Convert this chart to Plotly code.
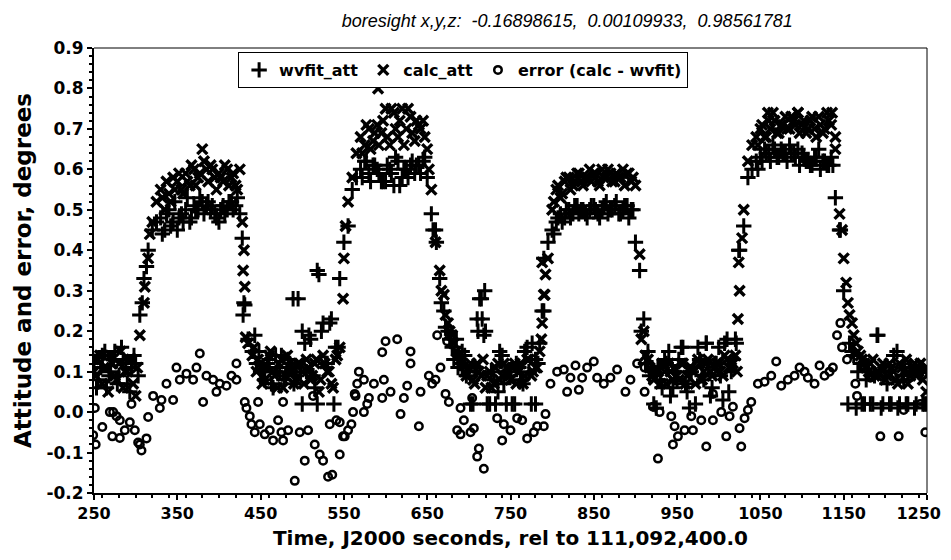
import plotly.graph_objects as go

# ---------------- data ----------------
# main sample times (s, rel to 111,092,400.0)
t = [250, 255, 260, 265, 270, 275, 280, 285, 290, 295,
     300, 305, 310, 315, 320, 325, 330, 335, 340, 345,
     350, 355, 360, 365, 370, 375, 380, 385, 390, 395,
     400, 405, 410, 415, 420, 425, 430, 435, 440, 445,
     450, 455, 460, 465, 470, 475, 480, 485, 490, 495,
     500, 505, 510, 515, 520, 525, 530, 535, 540, 545,
     550, 555, 560, 565, 570, 575, 580, 585, 590, 595,
     600, 605, 610, 615, 620, 625, 630, 635, 640, 645,
     650, 655, 660, 665, 670, 675, 680, 685, 690, 695,
     700, 705, 710, 715, 720, 725, 730, 735, 740, 745,
     750, 755, 760, 765, 770, 775, 780, 785, 790, 795,
     800, 805, 810, 815, 820, 825, 830, 835, 840, 845,
     850, 855, 860, 865, 870, 875, 880, 885, 890, 895,
     900, 905, 910, 915, 920, 925, 930, 935, 940, 945,
     950, 955, 960, 965, 970, 975, 980, 985, 990, 995,
     1000, 1005, 1010, 1015, 1020, 1025, 1030, 1035, 1040, 1045,
     1050, 1055, 1060, 1065, 1070, 1075, 1080, 1085, 1090, 1095,
     1100, 1105, 1110, 1115, 1120, 1125, 1130, 1135, 1140, 1145,
     1150, 1155, 1160, 1165, 1170, 1175, 1180, 1185, 1190, 1195,
     1200, 1205, 1210, 1215, 1220, 1225, 1230, 1235, 1240, 1245,
     1250]

wvfit = [0.12, 0.08, 0.14, 0.06, 0.10, 0.15, 0.09, 0.13, 0.07, 0.11,
         0.12, 0.24, 0.33, 0.40, 0.45, 0.47, 0.48, 0.45, 0.50, 0.47,
         0.45, 0.49, 0.50, 0.47, 0.51, 0.50, 0.52, 0.51, 0.50, 0.49,
         0.47, 0.51, 0.50, 0.52, 0.51, 0.49, 0.27, 0.18, 0.15, 0.12,
         0.10, 0.08, 0.13, 0.06, 0.11, 0.14, 0.09, 0.12, 0.07, 0.28,
         0.20, 0.10, 0.18, 0.06, 0.34, 0.22, 0.12, 0.23, 0.16, 0.33,
         0.42, 0.46, 0.55, 0.58, 0.60, 0.62, 0.59, 0.61, 0.60, 0.57,
         0.57, 0.60, 0.56, 0.62, 0.58, 0.60, 0.61, 0.59, 0.61, 0.62,
         0.58, 0.49, 0.45, 0.33, 0.25, 0.20, 0.16, 0.18, 0.12, 0.14,
         0.10, 0.02, 0.23, 0.28, 0.20, 0.02, 0.08, 0.05, 0.14, 0.02,
         0.09, 0.02, 0.11, 0.07, 0.16, 0.02, 0.13, 0.17, 0.25, 0.42,
         0.45, 0.47, 0.49, 0.48, 0.50, 0.49, 0.51, 0.50, 0.49, 0.50,
         0.51, 0.49, 0.50, 0.52, 0.50, 0.51, 0.49, 0.50, 0.51, 0.50,
         0.42, 0.35, 0.23, 0.15, 0.11, 0.01, 0.08, 0.13, 0.15, 0.06,
         0.08, 0.16, 0.07, 0.01, 0.11, 0.16, 0.09, 0.17, 0.04, 0.12,
         0.16, 0.03, 0.18, 0.10, 0.18, 0.40, 0.46, 0.58, 0.60, 0.62,
         0.63, 0.65, 0.64, 0.66, 0.63, 0.65, 0.64, 0.66, 0.64, 0.65,
         0.64, 0.62, 0.61, 0.63, 0.65, 0.62, 0.61, 0.63, 0.53, 0.45,
         0.30, 0.02, 0.15, 0.01, 0.12, 0.02, 0.10, 0.02, 0.19, 0.01,
         0.10, 0.02, 0.14, 0.01, 0.09, 0.02, 0.11, 0.01, 0.10, 0.02,
         0.02]

calc = [0.10, 0.13, 0.07, 0.11, 0.14, 0.09, 0.12, 0.06, 0.10, 0.13,
        0.04, 0.19, 0.27, 0.38, 0.47, 0.52, 0.55, 0.50, 0.54, 0.58,
        0.57, 0.55, 0.59, 0.56, 0.60, 0.58, 0.65, 0.60, 0.61, 0.58,
        0.59, 0.57, 0.60, 0.58, 0.56, 0.60, 0.40, 0.17, 0.14, 0.10,
        0.12, 0.08, 0.14, 0.10, 0.06, 0.13, 0.09, 0.11, 0.07, 0.12,
        0.10, 0.13, 0.08, 0.12, 0.05, 0.14, 0.10, 0.07, 0.13, 0.16,
        0.38, 0.52, 0.58, 0.64, 0.68, 0.66, 0.70, 0.67, 0.71, 0.69,
        0.75, 0.66, 0.74, 0.68, 0.75, 0.70, 0.73, 0.67, 0.71, 0.72,
        0.65, 0.55, 0.42, 0.35, 0.29, 0.22, 0.19, 0.15, 0.13, 0.10,
        0.11, 0.08, 0.12, 0.09, 0.06, 0.10, 0.07, 0.12, 0.09, 0.11,
        0.08, 0.12, 0.10, 0.07, 0.13, 0.09, 0.11, 0.15, 0.29, 0.38,
        0.50, 0.55, 0.53, 0.57, 0.58, 0.56, 0.59, 0.57, 0.58, 0.60,
        0.59, 0.57, 0.60, 0.58, 0.59, 0.57, 0.58, 0.60, 0.59, 0.57,
        0.56, 0.39, 0.20, 0.13, 0.09, 0.11, 0.07, 0.10, 0.12, 0.08,
        0.09, 0.12, 0.07, 0.11, 0.10, 0.13, 0.08, 0.12, 0.10, 0.11,
        0.12, 0.09, 0.13, 0.11, 0.14, 0.30, 0.50, 0.62, 0.66, 0.68,
        0.70, 0.68, 0.72, 0.74, 0.69, 0.71, 0.73, 0.70, 0.72, 0.74,
        0.71, 0.69, 0.72, 0.70, 0.73, 0.69, 0.74, 0.71, 0.65, 0.49,
        0.38, 0.27, 0.22, 0.17, 0.14, 0.12, 0.10, 0.13, 0.09, 0.11,
        0.08, 0.12, 0.10, 0.07, 0.11, 0.13, 0.09, 0.12, 0.10, 0.08,
        0.11]

# extra wvfit_att samples (dense clusters and outliers)
wvfit_xt = [253, 258, 263, 268, 273, 278, 283, 288, 293, 298, 303, 308, 313,
            428, 429, 431,
            332, 337, 342, 347, 352, 357, 362, 367, 372, 377, 382, 387, 392, 397, 402, 407, 412, 417, 422,
            443, 448, 453, 458, 463, 468, 473, 478, 483, 488, 493, 498, 503, 508, 513, 518, 523, 528, 533, 538, 543, 489, 500, 518,
            572, 577, 582, 587, 592, 597, 602, 607, 612, 617, 622, 627, 632, 637, 642, 647, 657, 661,
            667, 672, 677, 682, 687, 692, 697, 702, 707, 711, 713, 716, 718, 719, 722, 727, 732, 737, 742, 747, 752, 757, 762, 767, 772, 776, 780, 783, 788, 790,
            802, 807, 812, 817, 822, 827, 832, 837, 842, 847, 852, 857, 862, 867, 872, 877, 882, 887, 892, 897,
            907, 912, 917, 922, 927, 932, 937, 942, 947, 952, 957, 962, 967, 972, 977, 982, 985, 992, 997, 1002, 1007, 1012, 1017, 1021, 1024,
            1047, 1052, 1057, 1062, 1067, 1072, 1077, 1082, 1087, 1092, 1097, 1102, 1107, 1112, 1117, 1122, 1127, 1132, 1137,
            1146, 1157, 1162, 1167, 1172, 1177, 1182, 1187, 1191, 1197, 1202, 1207, 1214, 1217, 1222, 1227, 1232, 1237, 1242, 1247]
wvfit_xy = [0.06, 0.11, 0.15, 0.09, 0.13, 0.07, 0.16, 0.12, 0.05, 0.14, 0.09, 0.27, 0.36,
            0.43, 0.24, 0.265,
            0.44, 0.49, 0.46, 0.52, 0.48, 0.47, 0.53, 0.48, 0.50, 0.53, 0.49, 0.52, 0.51, 0.48, 0.50, 0.49, 0.52, 0.50, 0.53,
            0.19, 0.15, 0.10, 0.12, 0.07, 0.14, 0.10, 0.08, 0.13, 0.11, 0.09, 0.10, 0.17, 0.19, 0.09, 0.02, 0.20, 0.12, 0.22, 0.02, 0.16, 0.28, 0.02, 0.35,
            0.58, 0.62, 0.57, 0.61, 0.59, 0.57, 0.61, 0.59, 0.63, 0.56, 0.60, 0.58, 0.62, 0.61, 0.59, 0.63, 0.45, 0.42,
            0.27, 0.21, 0.18, 0.13, 0.11, 0.15, 0.09, 0.02, 0.11, 0.20, 0.28, 0.23, 0.19, 0.30, 0.02, 0.10, 0.02, 0.15, 0.07, 0.10, 0.02, 0.12, 0.08, 0.15, 0.10, 0.17, 0.02, 0.12, 0.25, 0.38,
            0.44, 0.48, 0.47, 0.50, 0.48, 0.51, 0.49, 0.50, 0.48, 0.51, 0.50, 0.48, 0.51, 0.49, 0.50, 0.52, 0.49, 0.51, 0.48, 0.50,
            0.20, 0.12, 0.09, 0.02, 0.11, 0.06, 0.12, 0.04, 0.10, 0.13, 0.16, 0.05, 0.10, 0.02, 0.13, 0.08, 0.17, 0.06, 0.12, 0.09, 0.17, 0.05, 0.13, 0.17, 0.40,
            0.60, 0.62, 0.64, 0.62, 0.65, 0.63, 0.64, 0.62, 0.64, 0.63, 0.61, 0.63, 0.62, 0.61, 0.63, 0.60, 0.62, 0.61, 0.61,
            0.45, 0.17, 0.14, 0.10, 0.02, 0.08, 0.02, 0.09, 0.19, 0.02, 0.07, 0.02, 0.15, 0.02, 0.08, 0.02, 0.10, 0.02, 0.11, 0.02]

# extra calc_att samples
calc_xt = [252, 257, 262, 267, 272, 277, 282, 287, 292, 297, 302, 311, 317,
           428, 429, 431, 432,
           332, 337, 342, 347, 352, 357, 362, 367, 372, 377, 382, 387, 392, 397, 402, 407, 412, 417, 422,
           442, 447, 452, 457, 462, 467, 472, 477, 482, 487, 492, 497, 502, 507, 512, 517, 522, 527, 532, 537, 542, 549, 552,
           572, 577, 582, 587, 591, 592, 597, 602, 607, 612, 617, 622, 627, 632, 637, 642, 647, 652,
           667, 672, 677, 682, 687, 692, 697, 702, 707, 712, 717, 722, 727, 732, 737, 742, 747, 752, 757, 762, 767, 772, 777, 782, 787, 788, 791, 792, 788,
           802, 807, 812, 817, 822, 827, 832, 837, 842, 847, 852, 857, 862, 867, 872, 877, 882, 887, 892, 897,
           907, 912, 917, 922, 927, 932, 937, 942, 947, 952, 957, 962, 967, 972, 977, 982, 987, 992, 997, 1002, 1007, 1012, 1017, 1022, 1023, 1024, 1028,
           1047, 1052, 1057, 1059, 1062, 1067, 1072, 1077, 1082, 1087, 1092, 1095, 1097, 1102, 1107, 1112, 1117, 1122, 1127, 1132, 1136, 1140,
           1148, 1153, 1157, 1162, 1167, 1172, 1177, 1182, 1187, 1192, 1197, 1202, 1207, 1212, 1217, 1222, 1227, 1232, 1237, 1242, 1247, 1249]
calc_xy = [0.09, 0.14, 0.11, 0.05, 0.12, 0.08, 0.15, 0.10, 0.13, 0.07, 0.11, 0.31, 0.44,
           0.47, 0.35, 0.31, 0.185,
           0.53, 0.57, 0.52, 0.55, 0.59, 0.54, 0.57, 0.61, 0.56, 0.59, 0.62, 0.57, 0.60, 0.55, 0.58, 0.61, 0.56, 0.59, 0.55,
           0.16, 0.13, 0.07, 0.11, 0.15, 0.09, 0.12, 0.06, 0.14, 0.10, 0.08, 0.12, 0.07, 0.11, 0.09, 0.13, 0.08, 0.12, 0.10, 0.06, 0.14, 0.28, 0.46,
           0.64, 0.71, 0.65, 0.69, 0.80, 0.66, 0.72, 0.68, 0.75, 0.70, 0.72, 0.66, 0.75, 0.69, 0.72, 0.70, 0.68, 0.60,
           0.30, 0.24, 0.20, 0.17, 0.14, 0.12, 0.09, 0.12, 0.07, 0.10, 0.13, 0.09, 0.06, 0.11, 0.08, 0.12, 0.09, 0.11, 0.07, 0.12, 0.09, 0.13, 0.10, 0.11, 0.18, 0.22, 0.29, 0.34, 0.37,
           0.52, 0.56, 0.54, 0.58, 0.55, 0.57, 0.59, 0.56, 0.58, 0.57, 0.59, 0.56, 0.58, 0.60, 0.57, 0.59, 0.58, 0.56, 0.59, 0.58,
           0.18, 0.14, 0.11, 0.08, 0.10, 0.12, 0.07, 0.10, 0.11, 0.08, 0.12, 0.09, 0.11, 0.07, 0.12, 0.10, 0.13, 0.09, 0.12, 0.10, 0.14, 0.11, 0.12, 0.10, 0.23, 0.37, 0.43,
           0.66, 0.71, 0.68, 0.74, 0.70, 0.72, 0.69, 0.71, 0.70, 0.73, 0.71, 0.74, 0.69, 0.72, 0.70, 0.73, 0.68, 0.71, 0.70, 0.72, 0.74, 0.68,
           0.45, 0.32, 0.24, 0.19, 0.15, 0.13, 0.11, 0.12, 0.09, 0.10, 0.12, 0.09, 0.11, 0.08, 0.12, 0.10, 0.07, 0.11, 0.09, 0.12, 0.10, 0.05]

# error (calc - wvfit) samples
err_t = [251, 249, 252, 260, 269, 272, 273, 277, 281, 281, 287, 293, 295, 299, 303, 305, 307, 313, 315,
         321, 329, 331, 337, 345, 349, 353, 361, 369, 373, 377, 381, 385, 393, 397, 401, 409, 415, 421, 421,
         431, 433, 437, 439, 443, 447, 449, 455, 461, 465, 471, 475, 477, 477, 483, 491, 497, 503, 507, 513,
         515, 521, 525, 531, 533, 536, 541, 545, 545, 549, 551, 555, 559, 561, 563, 564, 566, 568, 574, 574,
         578, 580, 586, 596, 596, 598, 600, 606, 614, 618, 622, 626, 630, 630, 640, 642, 652, 656, 660, 662,
         666, 672, 674, 676, 686, 690, 690, 694, 702, 704, 706, 710, 712, 718, 734, 740, 742, 750, 758, 764,
         770, 778, 782, 790, 792, 798, 806, 814, 818, 822, 828, 832, 836, 842, 850, 854, 862, 870, 878, 888,
         894, 902, 911, 911, 921, 927, 929, 943, 945, 947, 951, 959, 967, 969, 979, 985, 993, 993, 1003, 1009,
         1013, 1017, 1025, 1027, 1031, 1035, 1039, 1047, 1055, 1063, 1069, 1075, 1083, 1091, 1097, 1103, 1107, 1115, 1121, 1127,
         1133, 1137, 1142, 1146, 1148, 1154, 1164, 1166, 1172, 1182, 1194, 1216, 1222, 1242, 1248]
err_y = [0.01, -0.057, -0.08, -0.037, 0.0, -0.06, 0.0, -0.01, -0.064, -0.02, -0.045, -0.025, 0.02, -0.045, -0.075, -0.08, -0.095, -0.065, -0.012,
         0.04, 0.01, 0.03, 0.07, 0.03, 0.11, 0.08, 0.095, 0.08, 0.11, 0.145, 0.025, 0.09, 0.08, 0.05, 0.07, 0.065, 0.09, 0.08, 0.12,
         0.025, 0.01, -0.01, -0.03, -0.05, 0.025, -0.03, -0.055, -0.045, -0.07, -0.02, -0.05, -0.07, 0.025, -0.045, -0.17, -0.05, -0.12, -0.045, 0.04,
         -0.08, -0.105, -0.12, -0.16, -0.03, -0.155, -0.02, -0.105, -0.025, -0.06, -0.06, -0.045, -0.03, 0.0, 0.045, 0.04, 0.07, 0.1, 0.08, 0.0,
         0.02, 0.035, 0.07, 0.035, 0.148, 0.08, 0.175, 0.05, 0.18, -0.005, 0.035, 0.065, 0.15, 0.12, -0.035, 0.05, 0.09, 0.07, 0.08, 0.19,
         0.11, 0.045, 0.175, 0.025, -0.045, 0.01, -0.055, -0.02, -0.05, 0.035, -0.04, -0.11, -0.09, -0.14, -0.015, -0.07, -0.03, -0.045, -0.015, -0.02,
         -0.065, -0.05, -0.035, -0.035, -0.005, 0.07, 0.1, 0.105, 0.05, 0.085, 0.115, 0.055, 0.085, 0.11, 0.125, 0.085, 0.07, 0.085, 0.105, 0.05,
         0.08, 0.12, 0.11, 0.05, 0.013, -0.115, 0.0, -0.01, -0.08, -0.035, -0.06, -0.045, -0.01, -0.045, -0.02, -0.085, -0.02, 0.045, 0.0, -0.06,
         -0.01, 0.013, -0.04, -0.085, -0.015, 0.005, 0.025, 0.07, 0.075, 0.09, 0.125, 0.065, 0.08, 0.09, 0.11, 0.1, 0.085, 0.07, 0.115, 0.09,
         0.1, 0.11, 0.19, 0.22, 0.16, 0.13, 0.07, 0.04, 0.115, 0.085, -0.06, -0.06, 0.005, 0.02, -0.05]

x_ticks = [250, 350, 450, 550, 650, 750, 850, 950, 1050, 1150, 1250]
# last label padded with a figure space + no-break space so it stays inside the page
x_ticklabels = ["250", "350", "450", "550", "650", "750", "850", "950", "1050", "1150",
                "1250\u2007\u00a0"]
y_ticks = [0.9, 0.8, 0.7, 0.6, 0.5, 0.4, 0.3, 0.2, 0.1, 0.0, -0.1, -0.2]

title_text = "boresight x,y,z:  -0.16898615,  0.00109933,  0.98561781"
x_title = "Time, J2000 seconds, rel to 111,092,400.0"
y_title = "Attitude and error, degrees"

# ---------------- figure ----------------
FONT = "Liberation Sans, Arial, sans-serif"
BOLD = "DejaVu Sans, Liberation Sans, sans-serif"

fig = go.Figure()
fig.add_trace(go.Scatter(
    x=t + wvfit_xt, y=wvfit + wvfit_xy, mode="markers", name="wvfit_att",
    marker=dict(symbol="cross-thin", size=11, color="black",
                line=dict(color="black", width=3))))
fig.add_trace(go.Scatter(
    x=t + calc_xt, y=calc + calc_xy, mode="markers", name="calc_att",
    marker=dict(symbol="x-thin", size=10, color="black",
                line=dict(color="black", width=3.4))))
fig.add_trace(go.Scatter(
    x=err_t, y=err_y, mode="markers", name="error (calc - wvfit)",
    marker=dict(symbol="circle-open", size=7.5, color="black",
                line=dict(color="black", width=2.5))))

axis_common = dict(showline=True, linecolor="black", linewidth=2, mirror=False,
                   showgrid=False, zeroline=False, ticks="outside", automargin=False,
                   tickcolor="black", tickwidth=1.5, ticklen=5,
                   ticklabeloverflow="allow")

fig.update_xaxes(range=[250, 1250], tickvals=x_ticks, ticktext=x_ticklabels,
                 tickfont=dict(family=BOLD, size=16, color="black", weight="bold"),
                 minor=dict(dtick=20, ticks="outside", ticklen=3, tickcolor="black"),
                 title=dict(text=x_title, standoff=9,
                            font=dict(family=BOLD, size=20, color="black", weight="bold")),
                 **axis_common)
fig.update_yaxes(range=[-0.2, 0.9], tickvals=y_ticks,
                 ticktext=[f"{v:.1f}" for v in y_ticks],
                 tickfont=dict(family=BOLD, size=17, color="black", weight="bold"),
                 minor=dict(dtick=0.02, ticks="outside", ticklen=3, tickcolor="black"),
                 title=dict(text=y_title, standoff=8,
                            font=dict(family=BOLD, size=23, color="black", weight="bold")),
                 **axis_common)

# thin frame on top and right edges of the plot area
fig.add_shape(type="line", xref="paper", yref="paper", x0=0, x1=1, y0=1, y1=1,
              line=dict(color="black", width=1))
fig.add_shape(type="line", xref="paper", yref="paper", x0=1, x1=1, y0=0, y1=1,
              line=dict(color="black", width=1))

# the page body has an 8 px margin, so the figure is sized/offset to compensate
fig.update_layout(
    width=943, height=544,
    margin=dict(l=86, r=24, t=40, b=59),
    plot_bgcolor="white", paper_bgcolor="white",
    font=dict(family=FONT, color="black"),
    title=dict(text=title_text, x=0.593, xanchor="center", y=0.977, yanchor="middle",
               font=dict(family=FONT, size=18, color="black", style="italic")),
    showlegend=True,
    legend=dict(orientation="h", x=0.173, xanchor="left", y=0.991, yanchor="top",
                bgcolor="white", bordercolor="black", borderwidth=1,
                font=dict(family=BOLD, size=16, color="black", weight="bold"),
                itemwidth=30, tracegroupgap=0),
)

fig.write_html("out.html")
